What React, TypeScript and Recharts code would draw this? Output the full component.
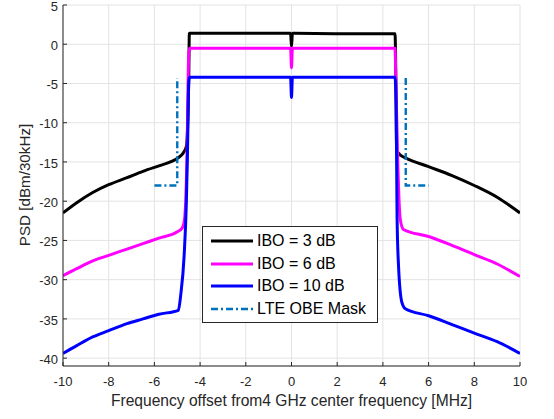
import React from 'react';
import { LineChart, Line, XAxis, YAxis, CartesianGrid, Legend, Label } from 'recharts';

// IBO = 3 dB
const freqIbo3 = [-10, -9.4, -8.7, -8, -7.2, -6.5, -5.8, -5.3, -4.93, -4.75, -4.6, -4.5, -4.47, -2, -0.04, 0, 0.04, 2, 4.53, 4.57, 4.6, 4.8, 5, 6, 7, 8, 9, 10];
const psdIbo3 = [-21.5, -20.2, -18.9, -17.9, -17.0, -16.2, -15.5, -15.0, -14.4, -13.9, -13.0, -5, 1.4, 1.4, 1.4, -0.3, 1.4, 1.35, 1.35, -5, -13.5, -14.2, -14.5, -15.6, -16.7, -18.0, -19.5, -21.5];

// IBO = 6 dB
const freqIbo6 = [-10, -9.4, -8.7, -8, -7.2, -6.5, -5.8, -5, -4.78, -4.68, -4.58, -4.5, -4.47, -2, -0.04, 0, 0.04, 2, 4.53, 4.57, 4.65, 4.76, 4.9, 6, 7, 8, 9, 10];
const psdIbo6 = [-29.5, -28.6, -27.6, -26.9, -26.1, -25.4, -24.7, -23.9, -23.4, -22.3, -15, -1.5, -0.5, -0.5, -0.5, -3.0, -0.5, -0.5, -0.5, -5, -15, -22.3, -23.6, -24.5, -25.6, -26.8, -28.0, -29.6];

// IBO = 10 dB
const freqIbo10 = [-10, -9.4, -8.7, -8, -7.2, -6.5, -5.8, -4.95, -4.85, -4.7, -4.6, -4.55, -4.5, -4.47, -2, -0.04, 0, 0.04, 2, 4.53, 4.58, 4.62, 4.68, 4.83, 4.98, 6, 7, 8, 9, 10];
const psdIbo10 = [-39.4, -38.4, -37.3, -36.5, -35.6, -35.0, -34.4, -33.9, -32, -27, -20, -13.5, -5, -4.2, -4.2, -4.2, -6.8, -4.2, -4.2, -4.2, -8, -22, -28, -32.9, -33.7, -34.6, -35.7, -36.8, -37.9, -39.4];

// LTE OBE mask (null breaks the two halves)
const freqMask = [-6, -5, -5, 0, 5, 5, 6];
const psdMask = [-18, -18, -4.3, null, -4.3, -18, -18];

const xTicks = [-10, -8, -6, -4, -2, 0, 2, 4, 6, 8, 10];
const yTicks = [5, 0, -5, -10, -15, -20, -25, -30, -35, -40];

const series = [
  { name: 'IBO = 3 dB', color: '#000000', freq: freqIbo3, psd: psdIbo3, dash: undefined, width: 3, curve: 'monotoneX' },
  { name: 'IBO = 6 dB', color: '#ff00ff', freq: freqIbo6, psd: psdIbo6, dash: undefined, width: 3, curve: 'monotoneX' },
  { name: 'IBO = 10 dB', color: '#0000ff', freq: freqIbo10, psd: psdIbo10, dash: undefined, width: 3, curve: 'monotoneX' },
  { name: 'LTE OBE Mask', color: '#0072bd', freq: freqMask, psd: psdMask, dash: '7 3 2 3', width: 2.4, curve: 'linear' },
];

const toPoints = (xs: number[], ys: (number | null)[]) => xs.map((f, i) => ({ f, psd: ys[i] }));

const FONT = '"Liberation Sans", Arial, Helvetica, sans-serif';
const AXIS = '#262626';

const EmptyTick = () => <g />;

const YTick = (props: any) => {
  const { x, y, payload } = props;
  return (
    <text x={x} y={y} dy={5.6} textAnchor="end" fill={AXIS} fontSize={13} fontFamily={FONT}>
      {payload.value}
    </text>
  );
};

const renderLegend = () => (
  <div
    style={{
      boxSizing: 'border-box',
      width: 176,
      height: 97,
      border: `1px solid ${AXIS}`,
      background: '#fff',
      padding: '3px 0 0 0',
      fontFamily: FONT,
      fontSize: 16,
      color: '#000',
    }}
  >
    {series.map((s) => (
      <div key={s.name} style={{ display: 'flex', alignItems: 'center', height: 22.5 }}>
        <svg width={42} height={6} style={{ marginLeft: 8, marginRight: 4 }}>
          <line x1={0} y1={3} x2={42} y2={3} stroke={s.color} strokeWidth={s.width} strokeDasharray={s.dash} />
        </svg>
        <span style={{ lineHeight: '16px' }}>{s.name}</span>
      </div>
    ))}
  </div>
);

const App: React.FC = () => {
  return (
    <div style={{ position: 'absolute', left: 0, top: 0, width: 554, height: 419, background: '#fff', fontFamily: FONT }}>
      <LineChart width={554} height={419} margin={{ top: 5, right: 34, bottom: 0, left: 0 }}>
        <CartesianGrid stroke="#e3e3e3" strokeWidth={1} />
        <XAxis
          dataKey="f"
          type="number"
          domain={[-10, 10]}
          ticks={xTicks}
          interval={0}
          allowDataOverflow
          height={53}
          stroke={AXIS}
          tickSize={-4}
          tickMargin={15}
          tick={{ fill: AXIS, fontSize: 13, fontFamily: FONT }}
        >
          <Label
            value="Frequency offset from4 GHz center frequency [MHz]"
            position="insideBottom"
            offset={13}
            style={{ fill: AXIS, fontSize: 15.6, fontFamily: FONT }}
          />
        </XAxis>
        <XAxis xAxisId="top" orientation="top" type="number" domain={[-10, 10]} ticks={xTicks} interval={0} height={0} stroke={AXIS} tickSize={-4} tick={<EmptyTick />} />
        <YAxis
          type="number"
          domain={[-41, 5]}
          ticks={yTicks}
          interval={0}
          allowDataOverflow
          width={63}
          stroke={AXIS}
          tickSize={-4}
          tickMargin={9}
          tick={<YTick />}
        >
          <Label
            content={() => (
              <text
                transform="translate(25,185) rotate(-90)"
                textAnchor="middle"
                dy="0.35em"
                fill={AXIS}
                fontSize={15.2}
                fontFamily={FONT}
              >
                PSD [dBm/30kHz]
              </text>
            )}
          />
        </YAxis>
        <YAxis yAxisId="right" orientation="right" type="number" domain={[-41, 5]} ticks={yTicks} interval={0} width={0} stroke={AXIS} tickSize={-4} tick={<EmptyTick />} />
        {series.map((s) => (
          <Line
            key={s.name}
            data={toPoints(s.freq, s.psd)}
            dataKey="psd"
            name={s.name}
            type={s.curve as any}
            stroke={s.color}
            strokeWidth={s.width}
            strokeDasharray={s.dash}
            dot={false}
            activeDot={false}
            connectNulls={false}
            isAnimationActive={false}
          />
        ))}
        <Legend
          layout="vertical"
          align="center"
          verticalAlign="middle"
          content={renderLegend}
          wrapperStyle={{ left: 202, top: 226, width: 176, height: 97 }}
        />
      </LineChart>
    </div>
  );
};

export default App;
